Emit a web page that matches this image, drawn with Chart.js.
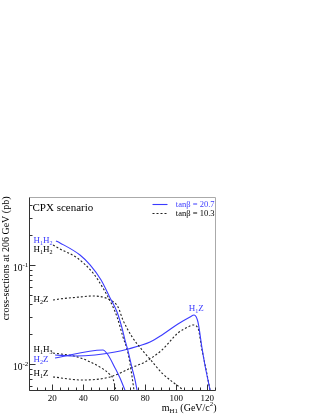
<!DOCTYPE html>
<html>
<head>
<meta charset="utf-8">
<script src="https://cdn.jsdelivr.net/npm/chart.js@4/dist/chart.umd.min.js"></script>
<style>
html,body{margin:0;padding:0;background:#fff;}
canvas{display:block;}
</style>
</head>
<body>
<canvas id="c" width="320" height="414"></canvas>
<script>
// ---- data (m_H1 in GeV/c^2, cross-sections in pb) ----
const h1h2_tb207_m  = [22.4, 25.0, 37.9, 44.4, 51.5, 57.3, 61.8, 65.0, 66.9, 68.9, 71.5, 73.4, 74.7];
const h1h2_tb207_xs = [0.175, 0.167, 0.126, 0.100, 0.0705, 0.0464, 0.0335, 0.0231, 0.0175, 0.0135, 0.0091, 0.0069, 0.00546];

const h1h2_tb103_m  = [20.5, 25.0, 36.0, 46.3, 52.7, 59.2, 61.8, 65.6, 68.9, 71.5, 72.7];
const h1h2_tb103_xs = [0.159, 0.145, 0.118, 0.083, 0.0586, 0.0377, 0.0299, 0.0188, 0.0129, 0.0074, 0.00546];

const h2z_tb103_m  = [20.5, 25.0, 37.9, 46.3, 57.3, 62.4, 65.6, 71.5, 77.9, 83.1, 90.8, 103.7];
const h2z_tb103_xs = [0.0443, 0.0454, 0.0475, 0.0486, 0.0443, 0.0377, 0.0278, 0.0188, 0.0139, 0.0112, 0.0081, 0.00559];

const h2z_tb207_m  = [21.8, 52.7, 56.0, 60.5, 63.7, 66.9];
const h2z_tb207_xs = [0.0115, 0.01385, 0.01233, 0.00912, 0.00722, 0.00546];

const h1z_tb207_m  = [21.8, 34.7, 47.6, 60.5, 68.9, 83.1, 90.8, 101.1, 108.9, 111.5, 114.0, 116.6, 118.5, 121.8];
const h1z_tb207_xs = [0.01233, 0.01205, 0.01233, 0.01321, 0.01418, 0.01667, 0.01963, 0.02535, 0.02985, 0.03126, 0.02655, 0.01452, 0.00977, 0.00546];

const h1z_tb103_m  = [20.5, 39.2, 57.3, 72.1, 79.8, 90.8, 101.1, 107.6, 110.8, 114.0, 116.6, 118.5, 121.8];
const h1z_tb103_xs = [0.0074, 0.00689, 0.0074, 0.00933, 0.01047, 0.01385, 0.02055, 0.02366, 0.02478, 0.02312, 0.01385, 0.0100, 0.00546];

const h1h3_tb103_m  = [20.5, 36.0, 50.8, 57.3, 59.2, 61.0];
const h1h3_tb103_xs = [0.0129, 0.0118, 0.0093, 0.0078, 0.0071, 0.00546];

const xMajorTicks = [20, 40, 60, 80, 100, 120];
const xMinorStep = 5;
const yMajorTicks = [0.01, 0.1];
const yMajorExps = ['-2', '-1'];
const legendLabels = ['tan\u03B2 = 20.7', 'tan\u03B2 = 10.3'];
const title = 'CPX scenario';
const xTitle = ['m', 'H1', ' (GeV/c', '2', ')'];
const yTitle = 'cross-sections at 206 GeV (pb)';

const BLUE = '#3b3bff';
const DARK = '#222';
const SERIF = '"Liberation Serif", "DejaVu Serif", serif';

function pts(m, v) { return m.map((x, i) => ({x: x, y: v[i]})); }
function solid(data) {
  return {data: data, borderColor: BLUE, borderWidth: 1.1, pointRadius: 0, fill: false,
          cubicInterpolationMode: 'monotone', clip: 0};
}
function dashed(data) {
  return {data: data, borderColor: DARK, borderWidth: 1.1, borderDash: [2, 2], pointRadius: 0, fill: false,
          cubicInterpolationMode: 'monotone', clip: 0};
}

// text with subscripts/superscripts: parts [{t, sub, sup}]
function richText(ctx, parts, x, y, size, color, align) {
  ctx.save();
  ctx.fillStyle = color;
  ctx.textBaseline = 'alphabetic';
  let w = 0;
  const small = size * 0.68;
  parts.forEach(p => { ctx.font = ((p.sub || p.sup) ? small : size) + 'px ' + SERIF; p.w = ctx.measureText(p.t).width; w += p.w; });
  let cx = align === 'right' ? x - w : (align === 'center' ? x - w / 2 : x);
  parts.forEach(p => {
    ctx.font = ((p.sub || p.sup) ? small : size) + 'px ' + SERIF;
    let dy = p.sub ? size * 0.22 : (p.sup ? -size * 0.42 : 0);
    ctx.textAlign = 'left';
    ctx.fillText(p.t, cx, y + dy);
    cx += p.w;
  });
  ctx.restore();
}
function hLabel(ctx, a, b, x, y, color) {
  // e.g. H1H2 -> H_1 H_2
  const parts = [{t: 'H'}, {t: a, sub: true}];
  if (b === 'Z') parts.push({t: 'Z'}); else { parts.push({t: 'H'}); parts.push({t: b, sub: true}); }
  richText(ctx, parts, x, y, 9, color, 'left');
}

const decor = {
  id: 'decor',
  afterDraw(chart) {
    const ctx = chart.ctx, xs = chart.scales.x, ys = chart.scales.y, a = chart.chartArea;
    const L = Math.round(a.left) + 0.5, R = Math.round(a.right) + 0.5, T = Math.round(a.top) + 0.5, B = Math.round(a.bottom) + 0.5;
    ctx.save();
    ctx.lineWidth = 1;
    // frame
    ctx.strokeStyle = '#aaa';
    ctx.beginPath(); ctx.moveTo(L, T); ctx.lineTo(R, T); ctx.lineTo(R, B); ctx.stroke();
    ctx.strokeStyle = '#333';
    ctx.beginPath(); ctx.moveTo(L, T); ctx.lineTo(L, B); ctx.lineTo(R, B); ctx.stroke();
    // x ticks
    ctx.beginPath();
    for (let v = xs.min; v <= xs.max + 1e-6; v += xMinorStep) {
      const px = Math.round(xs.getPixelForValue(v)) + 0.5;
      const len = xMajorTicks.includes(v) ? 6 : 3;
      ctx.moveTo(px, B); ctx.lineTo(px, B - len);
    }
    // y ticks
    for (let d = -3; d <= 0; d++) {
      for (let m = 1; m <= 9; m++) {
        const v = m * Math.pow(10, d);
        if (v < ys.min || v > ys.max) continue;
        const py = Math.round(ys.getPixelForValue(v)) + 0.5;
        const len = m === 1 ? 6 : 3;
        ctx.moveTo(L, py); ctx.lineTo(L + len, py);
      }
    }
    ctx.stroke();
    // x tick labels
    ctx.fillStyle = '#000';
    ctx.font = '9px ' + SERIF;
    ctx.textAlign = 'center'; ctx.textBaseline = 'middle';
    xMajorTicks.forEach(v => ctx.fillText(String(v), xs.getPixelForValue(v), B + 8));
    // y tick labels
    yMajorTicks.forEach((v, i) => {
      const py = ys.getPixelForValue(v);
      richText(ctx, [{t: '10'}], L - 7, py + 6, 9.5, '#000', 'right');
      richText(ctx, [{t: yMajorExps[i]}], L - 7, py + 2, 7, '#000', 'left');
    });
    // axis titles
    richText(ctx, [{t: xTitle[0]}, {t: xTitle[1], sub: true}, {t: xTitle[2]}, {t: xTitle[3], sup: true}, {t: xTitle[4]}], R + 1, B + 20, 10, '#000', 'right');
    ctx.save();
    ctx.translate(9, T - 1);
    ctx.rotate(-Math.PI / 2);
    ctx.font = '10px ' + SERIF; ctx.fillStyle = '#000'; ctx.textAlign = 'right'; ctx.textBaseline = 'alphabetic';
    ctx.fillText(yTitle, 0, 0);
    ctx.restore();
    // title
    ctx.font = '11px ' + SERIF; ctx.fillStyle = '#000'; ctx.textAlign = 'left'; ctx.textBaseline = 'alphabetic';
    ctx.fillText(title, L + 3, T + 13);
    // legend
    ctx.lineWidth = 1.1;
    ctx.strokeStyle = BLUE; ctx.setLineDash([]);
    ctx.beginPath(); ctx.moveTo(R - 63, T + 7); ctx.lineTo(R - 48, T + 7); ctx.stroke();
    ctx.strokeStyle = DARK; ctx.setLineDash([2, 2]);
    ctx.beginPath(); ctx.moveTo(R - 63, T + 16); ctx.lineTo(R - 48, T + 16); ctx.stroke();
    ctx.setLineDash([]);
    ctx.font = '8.5px ' + SERIF; ctx.textAlign = 'right'; ctx.textBaseline = 'middle';
    ctx.fillStyle = BLUE; ctx.fillText(legendLabels[0], R - 1, T + 7);
    ctx.fillStyle = '#000'; ctx.fillText(legendLabels[1], R - 1, T + 16);
    // curve labels
    hLabel(ctx, '1', '2', L + 4, 243, BLUE);
    hLabel(ctx, '1', '2', L + 4, 252, '#000');
    hLabel(ctx, '2', 'Z', L + 4, 302, '#000');
    hLabel(ctx, '1', '3', L + 4, 352, '#000');
    hLabel(ctx, '2', 'Z', L + 4, 362, BLUE);
    hLabel(ctx, '1', 'Z', L + 4, 376, '#000');
    hLabel(ctx, '1', 'Z', xs.getPixelForValue(108), 311, BLUE);
    ctx.restore();
  }
};

new Chart(document.getElementById('c'), {
  type: 'line',
  data: {
    datasets: [
      solid(pts(h1h2_tb207_m, h1h2_tb207_xs)),
      dashed(pts(h1h2_tb103_m, h1h2_tb103_xs)),
      dashed(pts(h2z_tb103_m, h2z_tb103_xs)),
      solid(pts(h2z_tb207_m, h2z_tb207_xs)),
      solid(pts(h1z_tb207_m, h1z_tb207_xs)),
      dashed(pts(h1z_tb103_m, h1z_tb103_xs)),
      dashed(pts(h1h3_tb103_m, h1h3_tb103_xs))
    ]
  },
  options: {
    responsive: false,
    animation: false,
    devicePixelRatio: 1,
    layout: {padding: {left: 29, top: 197, right: 105, bottom: 24}},
    plugins: {legend: {display: false}, tooltip: {enabled: false}},
    scales: {
      x: {type: 'linear', min: 5, max: 125, display: false},
      y: {type: 'logarithmic', min: 0.00546, max: 0.486, display: false}
    }
  },
  plugins: [decor]
});
</script>
</body>
</html>
